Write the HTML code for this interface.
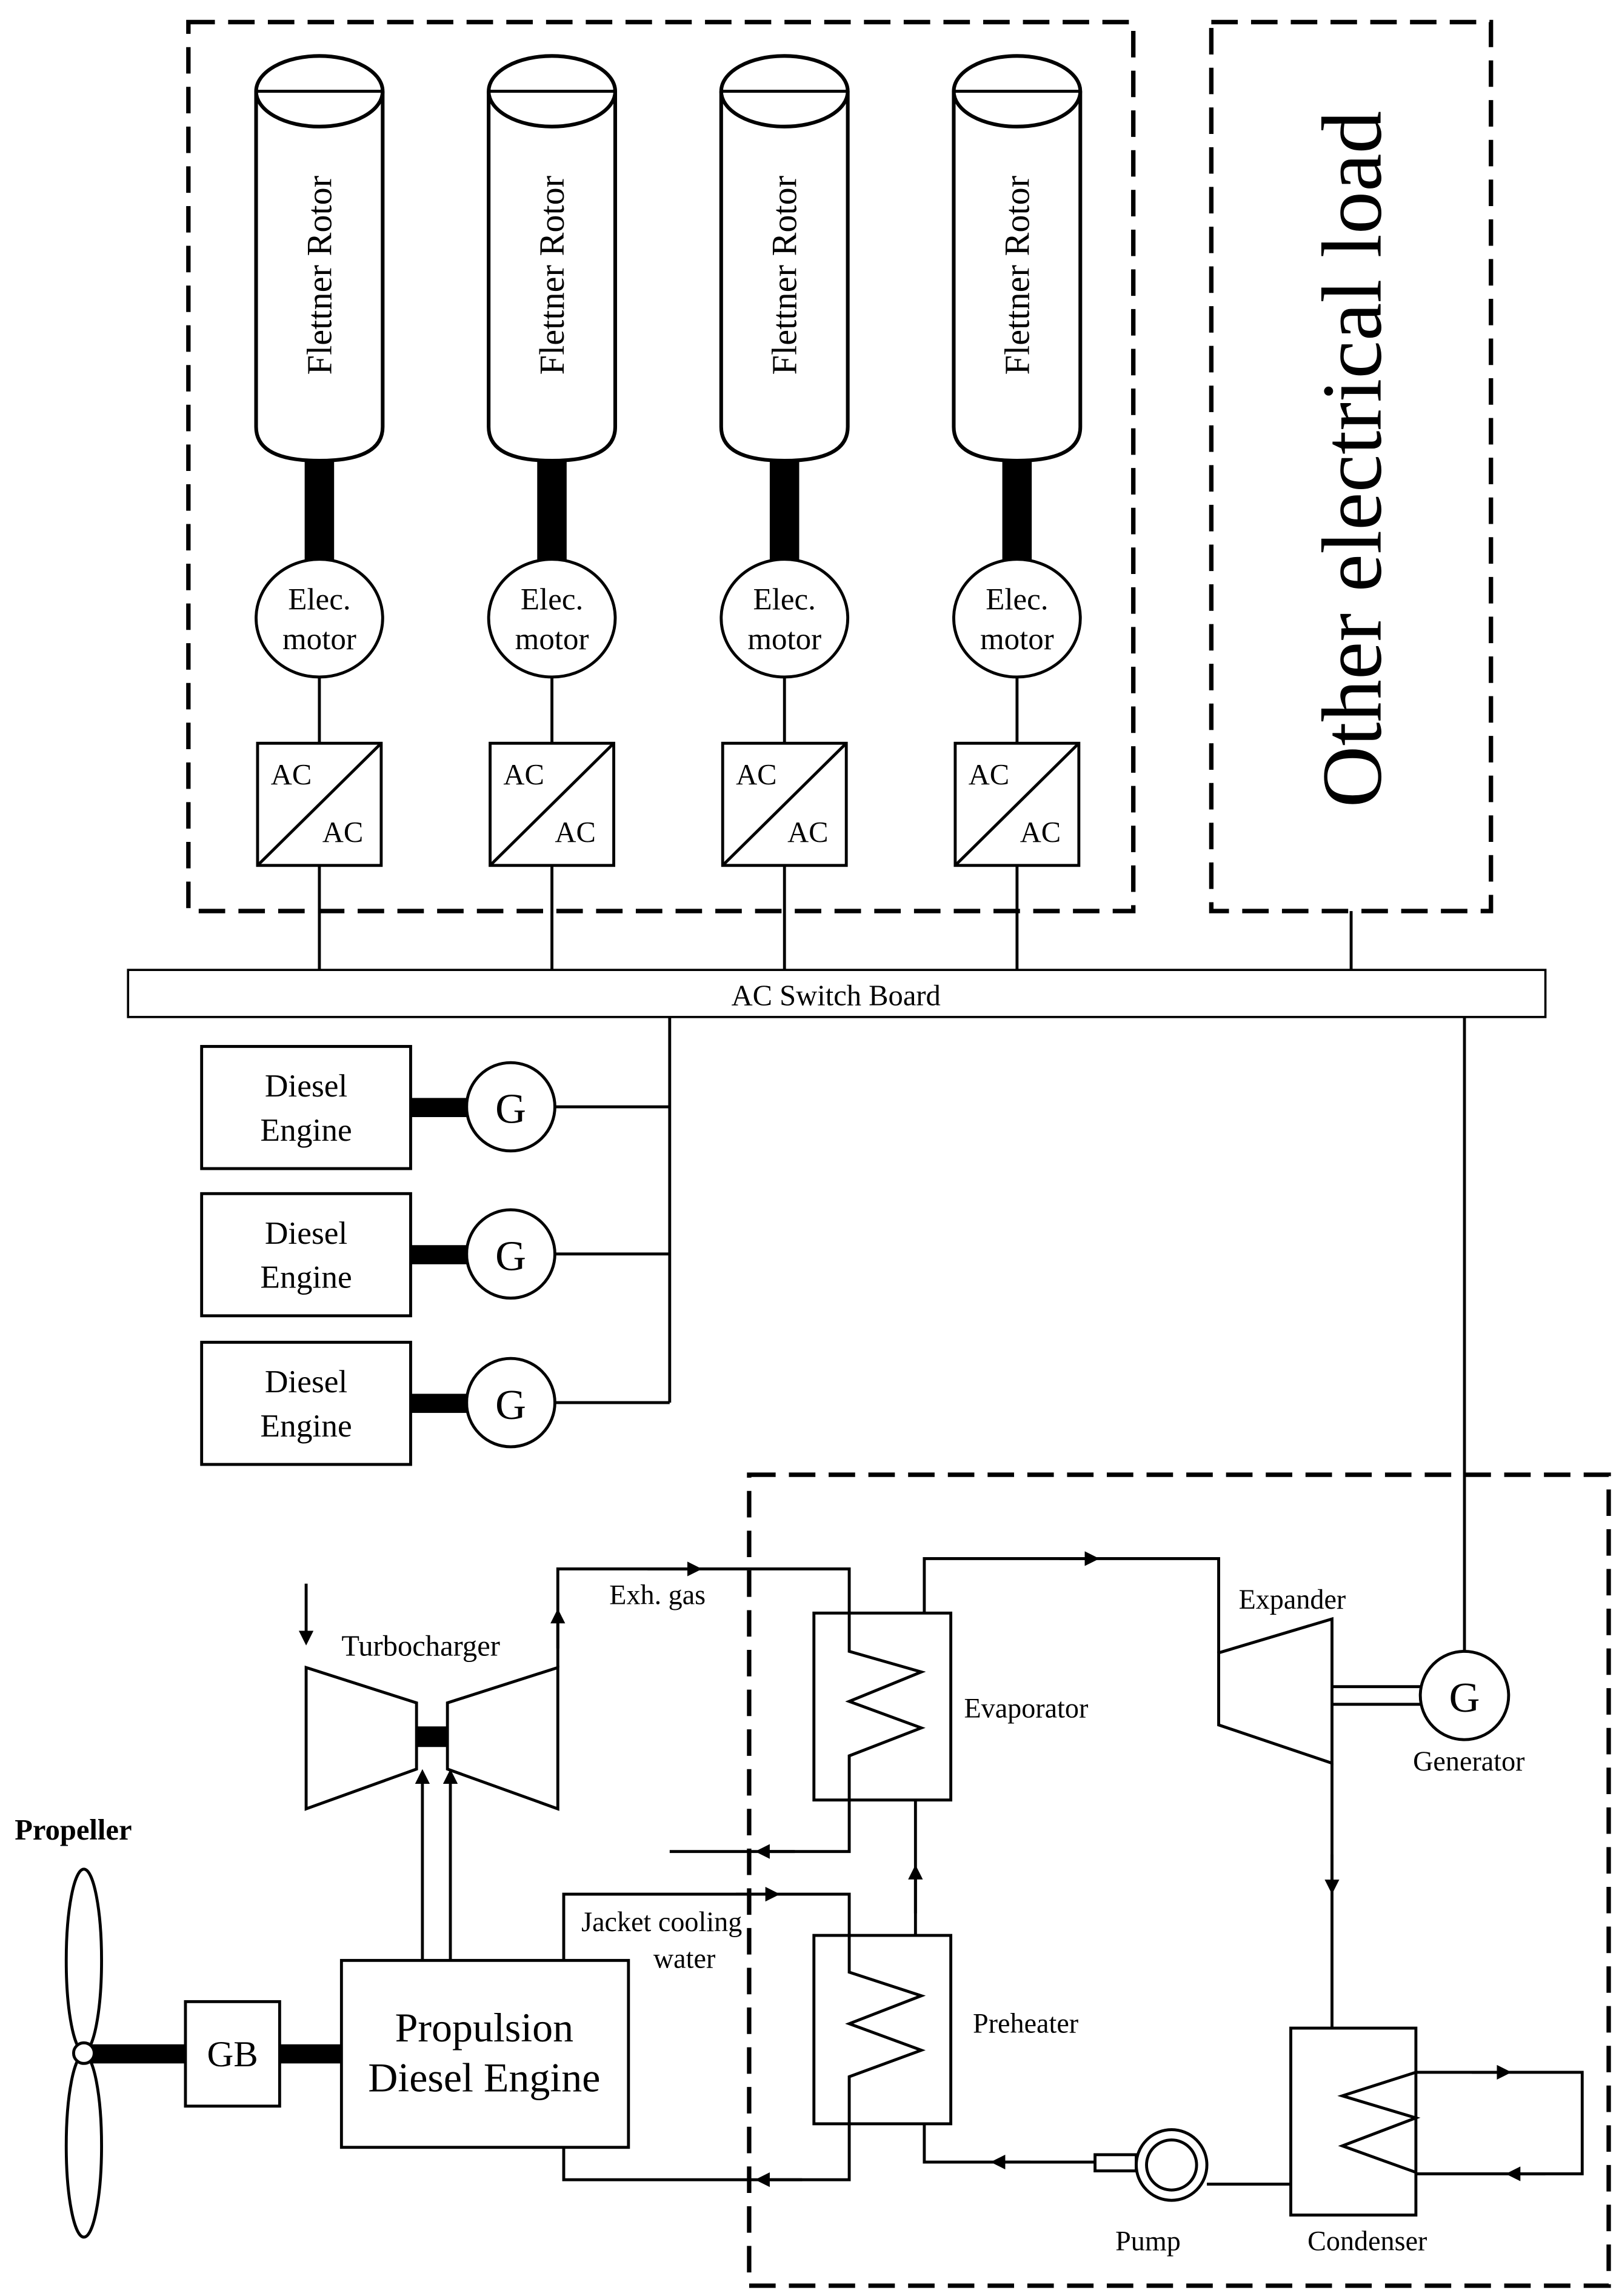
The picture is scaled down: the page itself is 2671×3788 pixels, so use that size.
<!DOCTYPE html>
<html><head><meta charset="utf-8"><style>html,body{margin:0;padding:0;background:#fff}svg{display:block}text{font-family:"Liberation Serif",serif}</style></head>
<body>
<svg width="2671" height="3788" viewBox="0 0 1100 1560" xmlns="http://www.w3.org/2000/svg" fill="none" stroke="#000" stroke-width="2">
<defs>
<marker id="a" viewBox="0 0 10 10" refX="5" refY="5" markerWidth="5" markerHeight="5" orient="auto"><path d="M0,0L10,5L0,10z" fill="#000" stroke="none"/></marker>
</defs>
<rect width="1100" height="1560" fill="#fff" stroke="none"/>
<g stroke-width="3" stroke-dasharray="18,9">
<rect x="128" y="15" width="642" height="604"/>
<rect x="823" y="15" width="190" height="604"/>
<rect x="509" y="1002" width="584" height="551"/>
</g>
<g id="r">
<path d="M174,62 V290 Q174,313 217,313 Q260,313 260,290 V62" stroke-width="2.5"/>
<ellipse cx="217" cy="62" rx="43" ry="24" stroke-width="2.5"/>
<line x1="174" y1="62" x2="260" y2="62"/>
<rect x="207" y="313" width="20" height="72" fill="#000" stroke="none"/>
<ellipse cx="217" cy="420" rx="43" ry="40" fill="#fff"/>
<text x="217" y="414" font-size="21" text-anchor="middle" fill="#000" stroke="none">Elec.</text>
<text x="217" y="441" font-size="21" text-anchor="middle" fill="#000" stroke="none">motor</text>
<line x1="217" y1="460" x2="217" y2="505"/>
<rect x="175" y="505" width="84" height="83"/>
<line x1="175" y1="588" x2="259" y2="505"/>
<text x="184" y="533" font-size="20" fill="#000" stroke="none">AC</text>
<text x="219" y="572" font-size="20" fill="#000" stroke="none">AC</text>
<line x1="217" y1="588" x2="217" y2="659"/>
<text transform="translate(225,187) rotate(-90)" font-size="24" text-anchor="middle" fill="#000" stroke="none">Flettner Rotor</text>
</g>
<use href="#r" x="158"/>
<use href="#r" x="316"/>
<use href="#r" x="474"/>
<text transform="translate(938,312) rotate(-90)" font-size="58" text-anchor="middle" fill="#000" stroke="none">Other electrical load</text>
<line x1="918" y1="619" x2="918" y2="659"/>
<rect x="87" y="659" width="963" height="32" stroke-width="1.5"/>
<text x="568" y="683" font-size="20" text-anchor="middle" fill="#000" stroke="none">AC Switch Board</text>
<line x1="455" y1="691" x2="455" y2="953"/>
<line x1="995" y1="691" x2="995" y2="1122"/>
<g id="d">
<rect x="137" y="711" width="142" height="83"/>
<text x="208" y="745" font-size="22" text-anchor="middle" fill="#000" stroke="none">Diesel</text>
<text x="208" y="775" font-size="22" text-anchor="middle" fill="#000" stroke="none">Engine</text>
<rect x="279" y="746" width="39" height="13" fill="#000" stroke="none"/>
<circle cx="347" cy="752" r="30"/>
<text x="347" y="763" font-size="29" text-anchor="middle" fill="#000" stroke="none">G</text>
<line x1="377" y1="752" x2="455" y2="752"/>
</g>
<use href="#d" y="100"/>
<use href="#d" y="201"/>
<text x="10" y="1250" font-size="20" font-weight="bold" fill="#000" stroke="none">Propeller</text>
<ellipse cx="57" cy="1332" rx="12" ry="62"/>
<ellipse cx="57" cy="1458" rx="12" ry="62"/>
<rect x="60" y="1389" width="66" height="13" fill="#000" stroke="none"/>
<circle cx="57" cy="1395" r="7" fill="#fff"/>
<rect x="126" y="1360" width="64" height="71"/>
<text x="158" y="1404" font-size="25" text-anchor="middle" fill="#000" stroke="none">GB</text>
<rect x="190" y="1389" width="42" height="13" fill="#000" stroke="none"/>
<rect x="232" y="1332" width="195" height="127"/>
<text x="329" y="1387" font-size="28" text-anchor="middle" fill="#000" stroke="none">Propulsion</text>
<text x="329" y="1421" font-size="28" text-anchor="middle" fill="#000" stroke="none">Diesel Engine</text>
<path d="M208,1133 L283,1157 V1202 L208,1229 Z"/>
<path d="M379,1133 L304,1157 V1202 L379,1229 Z"/>
<rect x="283" y="1173" width="21" height="14" fill="#000" stroke="none"/>
<text x="232" y="1125" font-size="20" fill="#000" stroke="none">Turbocharger</text>
<line x1="208" y1="1076" x2="208" y2="1113" marker-end="url(#a)"/>
<line x1="287" y1="1332" x2="287" y2="1207" marker-end="url(#a)"/>
<line x1="306" y1="1332" x2="306" y2="1207" marker-end="url(#a)"/>
<path d="M379,1133 V1066 H577 V1122 L626,1136 L577,1156 L626,1174 L577,1193 V1258 H455"/>
<line x1="379" y1="1120" x2="379" y2="1098" marker-end="url(#a)"/>
<line x1="440" y1="1066" x2="472" y2="1066" marker-end="url(#a)"/>
<line x1="540" y1="1258" x2="518" y2="1258" marker-end="url(#a)"/>
<text x="414" y="1090" font-size="19" fill="#000" stroke="none">Exh. gas</text>
<rect x="553" y="1096" width="93" height="127"/>
<text x="655" y="1167" font-size="19" fill="#000" stroke="none">Evaporator</text>
<path d="M383,1332 V1287 H577 V1340 L626,1356 L577,1375 L626,1393 L577,1411 V1481 H383 V1459"/>
<line x1="500" y1="1287" x2="525" y2="1287" marker-end="url(#a)"/>
<line x1="545" y1="1481" x2="518" y2="1481" marker-end="url(#a)"/>
<text x="395" y="1312" font-size="19" fill="#000" stroke="none">Jacket cooling</text>
<text x="465" y="1337" font-size="19" text-anchor="middle" fill="#000" stroke="none">water</text>
<rect x="553" y="1315" width="93" height="128"/>
<text x="661" y="1381" font-size="19" fill="#000" stroke="none">Preheater</text>
<line x1="622" y1="1315" x2="622" y2="1223"/>
<line x1="622" y1="1300" x2="622" y2="1272" marker-end="url(#a)"/>
<path d="M628,1096 V1059 H828 V1123"/>
<line x1="720" y1="1059" x2="742" y2="1059" marker-end="url(#a)"/>
<path d="M828,1123 L905,1100 V1198 L828,1172 Z"/>
<text x="878" y="1093" font-size="19" text-anchor="middle" fill="#000" stroke="none">Expander</text>
<path d="M905,1146 H965 M905,1158 H965"/>
<circle cx="995" cy="1152" r="30"/>
<text x="995" y="1163" font-size="29" text-anchor="middle" fill="#000" stroke="none">G</text>
<text x="998" y="1203" font-size="19" text-anchor="middle" fill="#000" stroke="none">Generator</text>
<line x1="905" y1="1198" x2="905" y2="1378"/>
<line x1="905" y1="1260" x2="905" y2="1282" marker-end="url(#a)"/>
<rect x="877" y="1378" width="85" height="127"/>
<path d="M962,1408 L912,1424 L962,1439 L912,1458 L962,1476"/>
<path d="M962,1408 H1075 V1477 H962"/>
<line x1="1000" y1="1408" x2="1022" y2="1408" marker-end="url(#a)"/>
<line x1="1050" y1="1477" x2="1028" y2="1477" marker-end="url(#a)"/>
<text x="929" y="1529" font-size="19" text-anchor="middle" fill="#000" stroke="none">Condenser</text>
<circle cx="796" cy="1471" r="24"/>
<circle cx="796" cy="1471" r="17"/>
<rect x="744" y="1464" width="28" height="11"/>
<line x1="820" y1="1484" x2="877" y2="1484"/>
<path d="M744,1469 H628 V1443"/>
<line x1="700" y1="1469" x2="678" y2="1469" marker-end="url(#a)"/>
<text x="780" y="1529" font-size="19" text-anchor="middle" fill="#000" stroke="none">Pump</text>
</svg>
</body></html>
